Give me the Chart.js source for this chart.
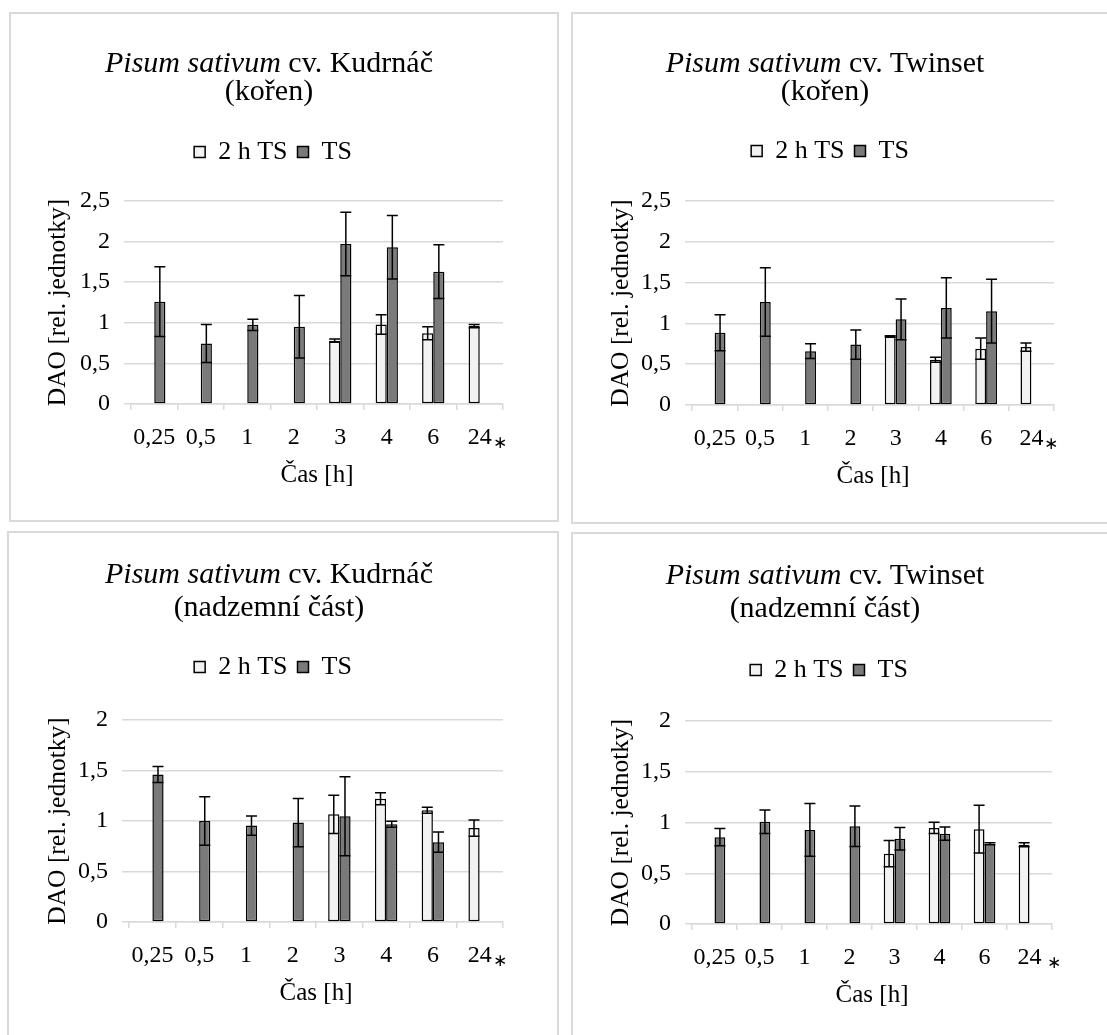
<!DOCTYPE html>
<html>
<head>
<meta charset="utf-8">
<script src="https://cdn.jsdelivr.net/npm/chart.js@4.4.1/dist/chart.umd.min.js"></script>
<style>
  body { margin: 0; background: #fff; }
  #page { position: relative; width: 1107px; height: 1035px; overflow: hidden; font-family: "Liberation Serif", "Times New Roman", serif; }
  .panel { position: absolute; box-sizing: border-box; border: 2px solid #d9d9d9; pointer-events: none; }
  canvas { position: absolute; }
  .chartTitle { position: absolute; width: 500px; text-align: center; font-size: 30px; color: #000; white-space: nowrap; }
</style>
</head>
<body>
<div id="page"></div>
<script>
const timeLabels = ['0,25', '0,5', '1', '2', '3', '4', '6', '24'];

// Kudrnáč - kořen
const kudrnacRoot2h = [null, null, null, null, 0.78, 0.98, 0.87, 0.96];
const kudrnacRoot2hErr = [null, null, null, null, 0.02, 0.12, 0.08, 0.02];
const kudrnacRootTs = [1.26, 0.745, 0.975, 0.95, 1.97, 1.93, 1.63, null];
const kudrnacRootTsErr = [0.43, 0.235, 0.07, 0.385, 0.39, 0.39, 0.33, null];

// Twinset - kořen
const twinsetRoot2h = [null, null, null, null, 0.84, 0.555, 0.69, 0.71];
const twinsetRoot2hErr = [null, null, null, null, 0.01, 0.03, 0.13, 0.05];
const twinsetRootTs = [0.885, 1.263, 0.66, 0.74, 1.05, 1.19, 1.15, null];
const twinsetRootTsErr = [0.22, 0.42, 0.09, 0.18, 0.25, 0.37, 0.39, null];

// Kudrnáč - nadzemní část
const kudrnacShoot2h = [null, null, null, null, 1.066, 1.22, 1.106, 0.93];
const kudrnacShoot2hErr = [null, null, null, null, 0.19, 0.06, 0.03, 0.08];
const kudrnacShootTs = [1.46, 1.0, 0.955, 0.984, 1.047, 0.967, 0.79, null];
const kudrnacShootTsErr = [0.08, 0.24, 0.095, 0.24, 0.39, 0.03, 0.1, null];

// Twinset - nadzemní část
const twinsetShoot2h = [null, null, null, null, 0.693, 0.947, 0.934, 0.78];
const twinsetShoot2hErr = [null, null, null, null, 0.13, 0.055, 0.235, 0.02];
const twinsetShootTs = [0.855, 1.007, 0.927, 0.963, 0.84, 0.89, 0.79, null];
const twinsetShootTsErr = [0.085, 0.115, 0.26, 0.2, 0.11, 0.065, 0.01, null];

const fontFamily = '"Liberation Serif", "Times New Roman", serif';
Chart.defaults.font.family = fontFamily;
Chart.defaults.color = '#000';

// one entry per chart box: where it sits and the data it shows
const panels = [
  { cultivar: 'Kudrnáč', part: 'kořen', twoH: kudrnacRoot2h, twoHErr: kudrnacRoot2hErr, ts: kudrnacRootTs, tsErr: kudrnacRootTsErr, yMax: 2.5,
    left: 9, top: 12, width: 550, height: 510, pad: { left: 34, right: 56, top: 117, bottom: 32 }, yWidth: 88, spacer: 26,
    titleX: 260, titleTop: 36, titleLine: 28, starDx: -3 },
  { cultivar: 'Twinset', part: 'kořen', twoH: twinsetRoot2h, twoHErr: twinsetRoot2hErr, ts: twinsetRootTs, tsErr: twinsetRootTsErr, yMax: 2.5,
    left: 571, top: 12, width: 539, height: 512, pad: { left: 35, right: 56, top: 116, bottom: 33 }, yWidth: 86, spacer: 27,
    titleX: 254, titleTop: 36, titleLine: 28, starDx: -3 },
  { cultivar: 'Kudrnáč', part: 'nadzemní část', twoH: kudrnacShoot2h, twoHErr: kudrnacShoot2hErr, ts: kudrnacShootTs, tsErr: kudrnacShootTsErr, yMax: 2,
    left: 7, top: 531, width: 552, height: 520, pad: { left: 36, right: 56, top: 113, bottom: 43 }, yWidth: 86, spacer: 30,
    titleX: 262, titleTop: 25, titleLine: 33, starDx: -3 },
  { cultivar: 'Twinset', part: 'nadzemní část', twoH: twinsetShoot2h, twoHErr: twinsetShoot2hErr, ts: twinsetShootTs, tsErr: twinsetShootTsErr, yMax: 2,
    left: 571, top: 532, width: 539, height: 520, pad: { left: 35, right: 58, top: 115, bottom: 42 }, yWidth: 86, spacer: 28,
    titleX: 254, titleTop: 25, titleLine: 33, starDx: 2 }
];

// symmetric error bars with caps, taken from dataset.errors
const errorBarsPlugin = {
  id: 'errorBars',
  afterDatasetsDraw(chart) {
    const ctx = chart.ctx;
    const yScale = chart.scales.y;
    ctx.save();
    ctx.strokeStyle = '#000';
    ctx.lineWidth = 1.5;
    chart.data.datasets.forEach((ds, i) => {
      const meta = chart.getDatasetMeta(i);
      ds.errors.forEach((err, j) => {
        const value = ds.data[j];
        if (value === null || err === null) return;
        const x = meta.data[j].x;
        const top = yScale.getPixelForValue(value + err);
        const bottom = yScale.getPixelForValue(value - err);
        ctx.beginPath();
        ctx.moveTo(x, top);
        ctx.lineTo(x, bottom);
        ctx.moveTo(x - 5.5, top);
        ctx.lineTo(x + 5.5, top);
        ctx.moveTo(x - 5.5, bottom);
        ctx.lineTo(x + 5.5, bottom);
        ctx.stroke();
      });
    });
    ctx.restore();
  }
};

// asterisk note after the last time label
const lastTickStarPlugin = {
  id: 'lastTickStar',
  afterDraw(chart, args, opts) {
    const xScale = chart.scales.x;
    const ctx = chart.ctx;
    ctx.save();
    ctx.font = '17px "DejaVu Sans", sans-serif';
    ctx.fillStyle = '#000';
    ctx.textAlign = 'center';
    ctx.textBaseline = 'middle';
    ctx.fillText('∗', xScale.right + opts.dx, xScale.top + 40);
    ctx.restore();
  }
};

function createBarData(p) {
  return {
    labels: timeLabels,
    datasets: [
      {
        label: '2 h TS',
        data: p.twoH,
        errors: p.twoHErr,
        backgroundColor: '#f2f2f2',
        borderColor: '#000',
        borderWidth: 1.5,
        borderSkipped: false,
        categoryPercentage: 0.48,
        barPercentage: 1
      },
      {
        label: 'TS',
        data: p.ts,
        errors: p.tsErr,
        backgroundColor: '#7a7a7a',
        borderColor: '#000',
        borderWidth: 1.5,
        borderSkipped: false,
        categoryPercentage: 0.48,
        barPercentage: 1
      }
    ]
  };
}

const page = document.getElementById('page');

panels.forEach(p => {
  const canvas = document.createElement('canvas');
  canvas.width = p.width;
  canvas.height = p.height;
  canvas.style.left = p.left + 'px';
  canvas.style.top = p.top + 'px';
  page.appendChild(canvas);

  const frame = document.createElement('div');
  frame.className = 'panel';
  frame.style.left = p.left + 'px';
  frame.style.top = p.top + 'px';
  frame.style.width = p.width + 'px';
  frame.style.height = p.height + 'px';
  page.appendChild(frame);

  const title = document.createElement('div');
  title.className = 'chartTitle';
  title.style.left = (p.left + p.titleX - 250) + 'px';
  title.style.top = (p.top + p.titleTop) + 'px';
  title.style.lineHeight = p.titleLine + 'px';
  title.innerHTML = '<i>Pisum sativum</i> cv. ' + p.cultivar + '<br>(' + p.part + ')';
  page.appendChild(title);

  new Chart(canvas.getContext('2d'), {
    type: 'bar',
    data: createBarData(p),
    plugins: [errorBarsPlugin, lastTickStarPlugin],
    options: {
      responsive: false,
      animation: false,
      layout: { padding: p.pad },
      plugins: {
        legend: {
          position: 'top',
          labels: { color: '#000', font: { size: 26 }, boxWidth: 11, boxHeight: 11, padding: 10 }
        },
        // empty title only keeps a gap between legend and plot
        title: { display: true, text: '', weight: 500, font: { size: 10 }, padding: { top: p.spacer - 12, bottom: 0 } },
        tooltip: { enabled: false },
        lastTickStar: { dx: p.starDx }
      },
      scales: {
        x: {
          grid: { drawOnChartArea: false, color: '#d9d9d9', lineWidth: 1.5, tickLength: 6 },
          border: { color: '#d9d9d9', width: 1.5 },
          ticks: { font: { size: 24 }, color: '#000', padding: 13, autoSkip: false, maxRotation: 0 },
          title: { display: true, text: 'Čas [h]', font: { size: 25 }, color: '#000', padding: 0 },
          afterFit: s => { s.height = 86; }
        },
        y: {
          min: 0,
          max: p.yMax,
          grid: { color: '#d9d9d9', lineWidth: 1.5, tickLength: 7 },
          border: { display: false },
          ticks: { stepSize: 0.5, font: { size: 24 }, color: '#000', padding: 14,
            callback: v => String(v).replace('.', ',') },
          title: { display: true, text: 'DAO [rel. jednotky]', font: { size: 25.5 }, color: '#000', padding: 0 },
          afterFit: s => { s.width = p.yWidth; }
        }
      }
    }
  });
});
</script>
</body>
</html>
